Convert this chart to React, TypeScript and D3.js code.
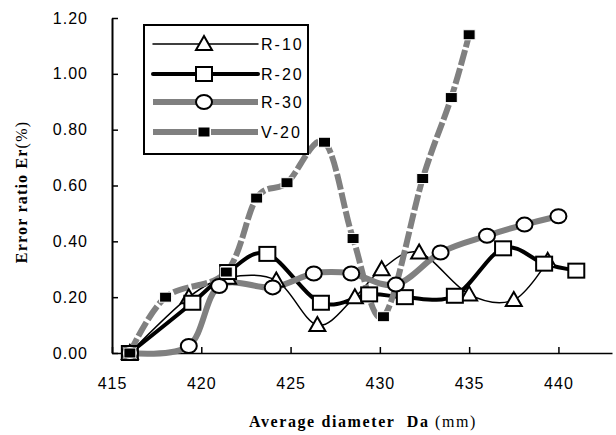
import * as d3 from "d3";
import { useRef, useEffect } from "react";

// Values
const r10X = [416.0, 419.3, 421.5, 424.2, 426.5, 428.6, 430.1, 432.2, 435.0, 437.5, 439.4];
const r10Y = [0.0, 0.2, 0.27, 0.26, 0.1, 0.2, 0.3, 0.36, 0.21, 0.19, 0.33];

const r20X = [416.0, 419.5, 421.5, 423.7, 426.7, 429.4, 431.4, 434.2, 436.9, 439.2, 441.0];
const r20Y = [0.0, 0.18, 0.29, 0.355, 0.18, 0.21, 0.2, 0.205, 0.375, 0.32, 0.295];

const r30X = [416.0, 419.3, 421.0, 424.0, 426.3, 428.4, 430.9, 433.4, 436.0, 438.1, 440.0];
const r30Y = [0.0, 0.025, 0.24, 0.235, 0.285, 0.285, 0.245, 0.36, 0.42, 0.46, 0.49];

const v20X = [416.0, 418.0, 421.4, 423.1, 424.8, 426.9, 428.5, 430.2, 432.4, 434.0, 435.0];
const v20Y = [0.0, 0.2, 0.29, 0.555, 0.61, 0.755, 0.41, 0.13, 0.625, 0.915, 1.14];

const seriesNames = ["R-10", "R-20", "R-30", "V-20"];
const xTicks = [415, 420, 425, 430, 435, 440];
const yTicks = [0, 0.2, 0.4, 0.6, 0.8, 1.0, 1.2];

const gray = "#808080";

export default function App() {
    const ref = useRef(null);

    const width = 616;
    const height = 435;
    const marginLeft = 112;
    const marginRight = 4;
    const marginTop = 18;
    const marginBottom = 82;

    useEffect(() => {
        const svg = d3.select(ref.current);
        svg.selectAll("*").remove();

        const x = d3.scaleLinear().domain([415, 443]).range([marginLeft, width - marginRight]);
        const y = d3.scaleLinear().domain([0, 1.2]).range([height - marginBottom, marginTop]);

        const series = [
            { name: seriesNames[0], xs: r10X, ys: r10Y, color: "#000", w: 1.5, dash: null, marker: "tri" },
            { name: seriesNames[1], xs: r20X, ys: r20Y, color: "#000", w: 4, dash: null, marker: "sq" },
            { name: seriesNames[2], xs: r30X, ys: r30Y, color: gray, w: 6, dash: null, marker: "circ" },
            { name: seriesNames[3], xs: v20X, ys: v20Y, color: gray, w: 6, dash: "16 3", marker: "bsq" },
        ];

        // axes
        const yAxis = svg.append("g")
            .attr("transform", `translate(${marginLeft},0)`)
            .call(d3.axisLeft(y).tickValues(yTicks).tickFormat(d3.format(".2f"))
                .tickSizeInner(-6).tickSizeOuter(0).tickPadding(24));
        yAxis.select(".domain").attr("stroke-width", 2);
        yAxis.selectAll(".tick line").attr("stroke-width", 1.5);
        yAxis.selectAll("text")
            .attr("font-family", "Liberation Sans, Arial, sans-serif")
            .attr("font-size", 16)
            .attr("letter-spacing", 1)
            .attr("fill", "#000");

        const xAxis = svg.append("g")
            .attr("transform", `translate(0,${height - marginBottom})`)
            .call(d3.axisBottom(x).tickValues(xTicks).tickFormat(d3.format("d"))
                .tickSizeInner(-6).tickSizeOuter(0).tickPadding(25));
        xAxis.select(".domain").attr("stroke-width", 1.5);
        xAxis.selectAll(".tick line").attr("stroke-width", 1.5);
        xAxis.selectAll("text")
            .attr("font-family", "Liberation Sans, Arial, sans-serif")
            .attr("font-size", 16)
            .attr("letter-spacing", 1)
            .attr("fill", "#000");

        // axis titles
        const xTitle = svg.append("text")
            .attr("x", 363)
            .attr("y", 427)
            .attr("text-anchor", "middle")
            .attr("font-family", "Liberation Serif, Times New Roman, serif")
            .attr("font-size", 16)
            .attr("letter-spacing", 1.6);
        xTitle.append("tspan").attr("font-weight", "bold").text("Average diameter\u00a0\u00a0Da ");
        xTitle.append("tspan").text("(mm)");

        const yTitle = svg.append("text")
            .attr("transform", "translate(27,192) rotate(-90)")
            .attr("text-anchor", "middle")
            .attr("font-family", "Liberation Serif, Times New Roman, serif")
            .attr("font-size", 16)
            .attr("letter-spacing", 1.2);
        yTitle.append("tspan").attr("font-weight", "bold").text("Error ratio Er");
        yTitle.append("tspan").text("(%)");

        // lines
        const line = d3.line().curve(d3.curveCatmullRom.alpha(0));
        series.forEach(s => {
            const pts = s.xs.map((v, i) => [x(v), y(s.ys[i])]);
            svg.append("path")
                .attr("d", line(pts))
                .attr("fill", "none")
                .attr("stroke", s.color)
                .attr("stroke-width", s.w)
                .attr("stroke-dasharray", s.dash);
        });

        const drawMarker = (g, kind, cx, cy) => {
            if (kind === "tri") {
                g.append("path")
                    .attr("d", `M${cx},${cy - 8}L${cx + 8},${cy + 6}L${cx - 8},${cy + 6}Z`)
                    .attr("fill", "#fff").attr("stroke", "#000").attr("stroke-width", 2);
            } else if (kind === "sq") {
                g.append("rect")
                    .attr("x", cx - 8).attr("y", cy - 7).attr("width", 16).attr("height", 14)
                    .attr("fill", "#fff").attr("stroke", "#000").attr("stroke-width", 2);
            } else if (kind === "circ") {
                g.append("ellipse")
                    .attr("cx", cx).attr("cy", cy).attr("rx", 8).attr("ry", 7)
                    .attr("fill", "#fff").attr("stroke", "#000").attr("stroke-width", 2);
            } else {
                g.append("rect")
                    .attr("x", cx - 6).attr("y", cy - 5).attr("width", 12).attr("height", 10)
                    .attr("fill", "#000").attr("stroke", "#fff").attr("stroke-width", 1);
            }
        };

        // markers
        series.forEach(s => {
            const g = svg.append("g");
            s.xs.forEach((v, i) => drawMarker(g, s.marker, x(v), y(s.ys[i])));
        });

        // legend
        const legend = svg.append("g");
        legend.append("rect")
            .attr("x", 144).attr("y", 25).attr("width", 164).attr("height", 129)
            .attr("fill", "#fff").attr("stroke", "#000").attr("stroke-width", 2);
        const rowY = [44, 74, 102, 132];
        series.forEach((s, i) => {
            const ly = rowY[i];
            if (s.dash) {
                legend.append("line").attr("x1", 153).attr("x2", 197).attr("y1", ly).attr("y2", ly)
                    .attr("stroke", s.color).attr("stroke-width", s.w);
                legend.append("line").attr("x1", 211).attr("x2", 258).attr("y1", ly).attr("y2", ly)
                    .attr("stroke", s.color).attr("stroke-width", s.w);
            } else {
                legend.append("line").attr("x1", 153).attr("x2", 258).attr("y1", ly).attr("y2", ly)
                    .attr("stroke", s.color).attr("stroke-width", s.w)
                    .attr("stroke-linecap", s.color === gray ? "butt" : "round");
            }
            drawMarker(legend, s.marker, 204, ly);
            legend.append("text")
                .attr("x", 261).attr("y", ly).attr("dy", "0.36em")
                .attr("font-family", "Liberation Sans, Arial, sans-serif")
                .attr("font-size", 16)
                .attr("letter-spacing", 2)
                .text(s.name);
        });
    }, []);

    return (
        <svg ref={ref} width={width} height={height}
            style={{ position: "absolute", left: 0, top: 0, background: "#fff" }} />
    );
}
